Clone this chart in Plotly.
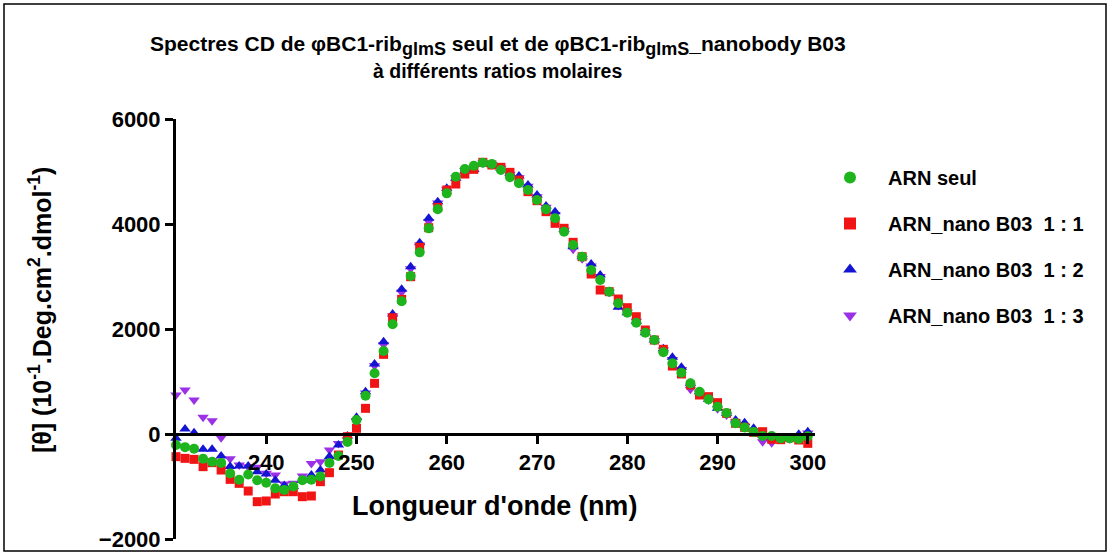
import plotly.graph_objects as go

# Wavelengths sampled every nm (nm)
wavelength = [230, 231, 232, 233, 234, 235, 236, 237, 238, 239,
              240, 241, 242, 243, 244, 245, 246, 247, 248, 249,
              250, 251, 252, 253, 254, 255, 256, 257, 258, 259,
              260, 261, 262, 263, 264, 265, 266, 267, 268, 269,
              270, 271, 272, 273, 274, 275, 276, 277, 278, 279,
              280, 281, 282, 283, 284, 285, 286, 287, 288, 289,
              290, 291, 292, 293, 294, 295, 296, 297, 298, 299, 300]

# Molar ellipticity, 10^-1 deg.cm2.dmol-1
arn_seul = [-210, -250, -280, -470, -527, -550, -750, -870, -770, -880,
            -930, -1035, -1065, -1000, -880, -870, -810, -550, -420, -150,
            267, 730, 1156, 1581, 2089, 2527, 3010, 3460, 3917, 4280,
            4584, 4901, 5048, 5111, 5168, 5143, 5029, 4889, 4775, 4648,
            4457, 4280, 4108, 3854, 3600, 3377, 3124, 2933, 2711, 2489,
            2311, 2120, 1930, 1790, 1556, 1346, 1168, 965, 806, 660,
            521, 400, 204, 125, 40, -38, -38, -83, -83, -95, -45]

nano_1_1 = [-432, -464, -483, -622, -546, -686, -864, -940, -1086, -1289,
            -1276, -1143, -1099, -1099, -1194, -1181, -908, -737, -400, -51,
            108, 489, 965, 1517, 2215, 2565, 2996, 3556, 3930, 4317,
            4648, 4762, 4952, 5041, 5175, 5124, 5080, 4984, 4838, 4616,
            4444, 4235, 4013, 3918, 3651, 3377, 3048, 2743, 2711, 2571,
            2406, 2234, 1981, 1790, 1613, 1295, 1143, 933, 743, 711,
            597, 394, 204, 127, 30, 44, -101, -108, -70, -114, -178]

nano_1_2 = [-82, 95, 25, -292, -292, -419, -620, -610, -610, -718,
            -760, -880, -980, -1000, -880, -780, -686, -430, -210, -40,
            318, 806, 1333, 1759, 2286, 2756, 3187, 3644, 4108, 4425,
            4680, 4870, 5010, 5040, 5160, 5130, 5060, 4965, 4914, 4743,
            4552, 4343, 4235, 3900, 3568, 3377, 3238, 3029, 2711, 2413,
            2311, 2150, 1930, 1790, 1625, 1461, 1270, 965, 806, 660,
            489, 394, 267, 216, 108, -20, -60, -83, -83, -6, 44]

nano_1_3 = [743, 838, 648, 318, 253, -70, -470, -590, -622, -635,
            -749, -781, -950, -940, -800, -560, -527, -305, -180, -60,
            250, 780, 1300, 1700, 2250, 2700, 3150, 3600, 4050, 4400,
            4660, 4880, 5020, 5060, 5160, 5130, 5060, 4950, 4880, 4720,
            4520, 4320, 4180, 3880, 3520, 3340, 3200, 3000, 2700, 2450,
            2320, 2150, 1940, 1780, 1600, 1420, 1230, 851, 780, 650,
            480, 360, 230, 150, 60, -146, -165, -100, -90, -60, 20]

x_ticks = [240, 250, 260, 270, 280, 290, 300]
y_ticks = [-2000, 0, 2000, 4000, 6000]

FONT = "Liberation Sans, Arial, sans-serif"
W, H = 1110, 554
ML, MR, MT, MB = 176, 295, 119, 15
PW, PH = W - ML - MR, H - MT - MB
Y_MIN, Y_MAX = -2000, 6000

# drawn back to front; legend order given by legendrank
series = [
    ("ARN_nano B03  1 : 3", nano_1_3, "#9b30e6", "triangle-down", 10, 4),
    ("ARN_nano B03  1 : 2", nano_1_2, "#1414d2", "triangle-up", 10, 3),
    ("ARN_nano B03  1 : 1", nano_1_1, "#f01414", "square", 9, 2),
    ("ARN seul", arn_seul, "#1eb41e", "circle", 10, 1),
]

fig = go.Figure()
for name, vals, color, symbol, size, rank in series:
    fig.add_trace(go.Scatter(
        x=wavelength, y=vals, name=name, mode="markers",
        marker=dict(color=color, symbol=symbol, size=size, line=dict(width=0)),
        cliponaxis=False, legendrank=rank, legendgroup=name,
    ))

def px_x(p):
    return (p - ML) / PW

def px_y(p):
    return (H - MB - p) / PH

SUB = '<sub><span style="font-size:18px">glmS</span></sub>'

fig.update_layout(
    width=W, height=H, autosize=False,
    margin=dict(l=ML, r=MR, t=MT, b=MB, autoexpand=False),
    paper_bgcolor="white", plot_bgcolor="white",
    font=dict(family=FONT, color="black"),
    showlegend=True,
    legend=dict(
        x=px_x(812), y=px_y(158), xanchor="left", yanchor="top",
        font=dict(family=FONT, size=20, color="black", weight="bold"),
        tracegroupgap=17, itemsizing="constant", itemwidth=66,
        bgcolor="rgba(0,0,0,0)",
    ),
    xaxis=dict(
        range=[230, 300.8], showgrid=False, zeroline=False, automargin=False,
        showline=True, linewidth=3, linecolor="black",
        anchor="free", position=(0 - Y_MIN) / (Y_MAX - Y_MIN),
        ticks="outside", ticklen=8, tickwidth=3, tickcolor="black",
        tickvals=x_ticks,
        tickfont=dict(family=FONT, size=22, color="black", weight="bold"),
    ),
    yaxis=dict(
        range=[Y_MIN, Y_MAX], showgrid=False, zeroline=False, automargin=False,
        showline=True, linewidth=3, linecolor="black",
        ticks="outside", ticklen=8, tickwidth=3, tickcolor="black",
        tickvals=y_ticks,
        tickfont=dict(family=FONT, size=22, color="black", weight="bold"),
    ),
    annotations=[
        dict(
            text="Spectres CD de \u03c6BC1-rib" + SUB + " seul et de "
                 "\u03c6BC1-rib" + SUB + "_nanobody B03",
            xref="paper", yref="paper", x=px_x(498), y=px_y(46),
            xanchor="center", yanchor="middle", showarrow=False,
            font=dict(family=FONT, size=21, color="black", weight="bold"),
        ),
        dict(
            text="à différents ratios molaires",
            xref="paper", yref="paper", x=px_x(498), y=px_y(71),
            xanchor="center", yanchor="middle", showarrow=False,
            font=dict(family=FONT, size=19.5, color="black", weight="bold"),
        ),
        dict(
            text="Longueur d'onde (nm)",
            xref="paper", yref="paper", x=px_x(494), y=px_y(506),
            xanchor="center", yanchor="middle", showarrow=False,
            font=dict(family=FONT, size=27, color="black", weight="bold"),
        ),
        dict(
            text="[\u03b8] (10<sup>-1</sup>.Deg.cm<sup>2</sup>.dmol<sup>-1</sup>)",
            xref="paper", yref="paper", x=px_x(40), y=px_y(310),
            xanchor="center", yanchor="middle", showarrow=False, textangle=-90,
            font=dict(family=FONT, size=25, color="black", weight="bold"),
        ),
    ],
    shapes=[
        dict(type="rect", xref="paper", yref="paper",
             x0=px_x(4), x1=px_x(1106), y0=px_y(551), y1=px_y(4),
             line=dict(color="black", width=1.5), fillcolor="rgba(0,0,0,0)"),
    ],
)

fig.write_html("out.html")
